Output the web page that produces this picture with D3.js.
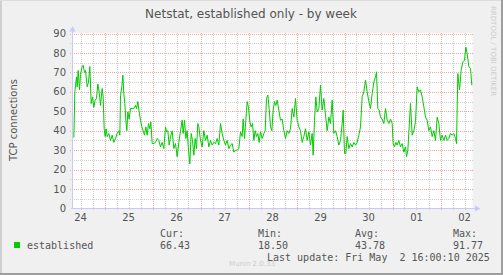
<!DOCTYPE html>
<html><head><meta charset="utf-8">
<script src="https://cdn.jsdelivr.net/npm/d3@7/dist/d3.min.js"></script>
<style>html,body{margin:0;padding:0;background:#f0f0f0;overflow:hidden}svg{display:block}</style>
</head><body><svg id="c" width="503" height="275"></svg>
<script>
// ---- data ----
const title = "Netstat, established only - by week";
const yLabel = "TCP connections";
const seriesName = "established";
const startTime = new Date(2025, 3, 24, 8, 0, 0);   // left edge of plot
const endTime = new Date(2025, 4, 2, 16, 0, 0);     // right edge of plot
const yTicks = [0, 10, 20, 30, 40, 50, 60, 70, 80, 90];
const yMinorTicks = [5, 15, 25, 35, 45, 55, 65, 75, 85];
// [hours since startTime, connections]
const established = [
 [0.67,36.5],[1.17,60],[2,67.7],[2.33,62.6],[2.83,71],[3.5,61],[4,69],[4.83,73],[5.33,73.7],[6,70],
 [6.5,71],[7.33,62.6],[8,65],[8.67,73],[9.33,54],[10,57.4],[10.67,52],[11.33,55.7],[12,56.6],[12.67,64],
 [13.33,60],[14,53],[14.83,61.7],[15.33,57.4],[15.83,41],[16.33,37],[16.83,41],[17.33,37],[18.17,38.6],[19,35],
 [19.83,37.7],[20.67,34],[21.5,36],[22.33,38.6],[23.17,40],[23.67,37.7],[24,58],[24.67,62.6],[25.17,68.6],[25.67,59],
 [26.17,54],[26.67,45.4],[27.17,40],[27.67,49.7],[28.33,46],[29,51.4],[29.83,51.4],[30.67,51.4],[31.5,53],[32,51.4],
 [32.67,55],[33.33,49.7],[34,45.4],[34.67,42],[35.33,40],[36,37.7],[36.67,42],[37.33,37.7],[38,43.7],[38.67,41],
 [39.17,44.6],[39.83,33.4],[40.67,33.4],[41.5,34],[42.33,36],[43.17,35],[44,31.7],[44.83,34],[45.67,30.8],[46.5,42],
 [47,39.4],[47.67,40],[48.33,32.6],[49,37],[49.83,40],[50.67,30.8],[51.5,33.4],[52.33,26.6],[53.17,34],[54,40],
 [54.83,45.4],[55.33,38.6],[56,45.4],[56.67,36],[57.33,40],[58,30],[58.67,23],[59.33,38.6],[60,35],[60.67,27.4],
 [61.33,36],[62,30.8],[62.67,43.7],[63.17,42],[64,35],[64.83,31.7],[65.67,40],[66.5,35],[67.33,37.7],[68.17,31.7],
 [69,35],[69.83,32.6],[70.67,34],[71.5,33.4],[72.33,36],[73.17,32.6],[74,43.7],[74.83,38.6],[75.67,35],[76.5,32.6],
 [77.33,35],[78.17,30.8],[79,32.6],[79.83,33.4],[80.67,29],[81.5,30],[82.33,30],[83.17,30.8],[84,39.4],[84.83,37],
 [85.33,46],[86,36],[86.67,45.4],[87.33,55],[88,52],[88.67,44.6],[89.33,42],[90,43.7],[90.67,35],[91.33,40],
 [92,37],[92.67,38.6],[93.33,34],[94,39.4],[94.83,36],[95.67,38.6],[96.33,40],[97,56.6],[97.67,58.3],[98.33,51.4],
 [99,42],[99.67,40],[100.33,50.6],[101,55],[101.67,53],[102.33,55.7],[103.17,50.6],[104,45.4],[104.83,46],[105.67,40],
 [106.5,36],[107.33,40],[108.17,38.6],[109,41],[109.83,51.4],[110.67,47],[111.5,56.6],[112.33,45.4],[113.17,42],[114,40],
 [114.83,34],[115.67,37],[116.5,41],[117.33,35],[118.17,39.4],[119,32.6],[119.83,38.6],[120.33,27.4],[121,45.4],[121.67,57.4],
 [122.33,49.7],[123.17,51.4],[124,63.4],[124.83,50.6],[125.67,56.6],[126.5,48],[127.33,40],[128.17,47],[129,43.7],[129.83,55.7],
 [130.67,38.6],[131.5,40],[132.33,37],[133.17,32.6],[134,35],[134.83,43.7],[135.33,50.6],[136,28.3],[136.67,28.3],[137.33,37],
 [138.17,30.8],[139,33.4],[139.83,31.7],[140.67,34],[141.5,32.6],[142.33,34],[143.17,37.7],[144,42],[144.83,57.4],[145.67,60],
 [146.5,66],[147.33,60],[148.17,55],[149,51.4],[149.83,59],[150.67,65],[151.5,67.7],[152,70.3],[152.67,51.4],[153.33,50.6],
 [154,47],[154.83,46],[155.67,43.7],[156.5,51.4],[157.33,45.4],[158.17,43.7],[159,46],[159.83,43.7],[160.33,33.4],[161,31.7],
 [161.67,34],[162.33,32.6],[163.17,35],[164,31.7],[164.83,33.4],[165.67,29],[166.5,31.7],[167,26.6],[167.67,30],[168.33,42],
 [169,54],[169.83,37.7],[170.67,40],[171.5,44.6],[172.33,62.6],[173.17,60],[174,61],[174.83,57.4],[175.67,52.3],[176.5,47],
 [177.33,45.4],[178.17,40],[179,42],[179.83,37],[180.67,40],[181.5,35],[182.33,47],[183.17,43.7],[184,35],[184.83,37.7],
 [185.67,35],[186.5,37.7],[187.33,35],[188.17,36],[189,38.6],[189.83,37.7],[190.67,38.6],[191.5,36],[192,33.4],[192.67,69.4],
 [193.5,61],[194.33,71],[195.17,75.4],[196,76.3],[196.67,83],[197.33,79.7],[198.17,73],[199,72],[199.67,63.4]
];
const legendHeaders = ["Cur:", "Min:", "Avg:", "Max:"];
const legendValues = ["66.43", "18.50", "43.78", "91.77"];
const lastUpdate = "Last update: Fri May  2 16:00:10 2025";
const footer = "Munin 2.0.33";
const watermark = "RRDTOOL / TOBI OETIKER";

// ---- drawing ----
const W = 503, H = 275;
const svg = d3.select("#c");
const sans = "'DejaVu Sans', sans-serif";
const mono = "'DejaVu Sans Mono', monospace";
const txt = "#555555";

svg.append("rect").attr("width", W).attr("height", H).attr("fill", "#f0f0f0");
// frame
svg.append("rect").attr("x", 0).attr("y", 0).attr("width", 2).attr("height", H).attr("fill", "#cfcfcf");
svg.append("rect").attr("x", 0).attr("y", 0).attr("width", W).attr("height", 1).attr("fill", "#dcdcdc");
svg.append("rect").attr("x", W - 2).attr("y", 0).attr("width", 2).attr("height", H).attr("fill", "#9e9e9e");
svg.append("rect").attr("x", 0).attr("y", H - 2).attr("width", W).attr("height", 2).attr("fill", "#9e9e9e");

const x = d3.scaleTime().domain([startTime, endTime]).range([72.5, 472.5]);
const y = d3.scaleLinear().domain([0, 90]).range([208.5, 33.5]);

svg.append("rect").attr("x", 72.5).attr("y", 33).attr("width", 400).attr("height", 175.5).attr("fill", "#ffffff");

const grid = svg.append("g").attr("shape-rendering", "crispEdges");
const minorC = "#cfcfcf", majorC = "#f2a3a3";
// minor horizontals
grid.selectAll(".hm").data(yMinorTicks).join("line")
  .attr("x1", 70).attr("x2", 473).attr("y1", d => Math.round(y(d)) + 0.5).attr("y2", d => Math.round(y(d)) + 0.5)
  .attr("stroke", minorC).attr("stroke-dasharray", "1,1");
// minor verticals every 6h
const sixH = d3.timeHour.every(6).range(startTime, endTime).filter(d => d.getHours() !== 0);
grid.selectAll(".vm").data(sixH).join("line")
  .attr("x1", d => Math.round(x(d)) + 0.5).attr("x2", d => Math.round(x(d)) + 0.5).attr("y1", 33).attr("y2", 210)
  .attr("stroke", minorC).attr("stroke-dasharray", "1,1");
// major horizontals
grid.selectAll(".hM").data(yTicks.filter(d => d > 0)).join("line")
  .attr("x1", 70).attr("x2", 473).attr("y1", d => Math.round(y(d)) + 0.5).attr("y2", d => Math.round(y(d)) + 0.5)
  .attr("stroke", majorC).attr("stroke-dasharray", "1,1");
// major verticals at midnight
const days = d3.timeDay.range(d3.timeDay.ceil(startTime), endTime);
grid.selectAll(".vM").data(days).join("line")
  .attr("x1", d => Math.round(x(d)) + 0.5).attr("x2", d => Math.round(x(d)) + 0.5).attr("y1", 33).attr("y2", 211)
  .attr("stroke", majorC).attr("stroke-dasharray", "1,1");

// series line
const line = d3.line()
  .x(d => x(new Date(+startTime + d[0] * 3600000)))
  .y(d => y(d[1]));
svg.append("path").datum(established).attr("d", line)
  .attr("fill", "none").attr("stroke", "#00cc00").attr("stroke-width", 1);

// axes
const axC = "#c8c8ff";
svg.append("line").attr("x1", 72.5).attr("x2", 72.5).attr("y1", 209).attr("y2", 30).attr("stroke", axC);
svg.append("path").attr("d", "M69.5,31.5 L75.5,31.5 L72.5,26 Z").attr("fill", axC);
svg.append("line").attr("x1", 71).attr("x2", 476).attr("y1", 208.5).attr("y2", 208.5).attr("stroke", axC);
svg.append("path").attr("d", "M475,205.5 L475,211.5 L480.5,208.5 Z").attr("fill", axC);

// y tick labels
svg.selectAll(".yl").data(yTicks).join("text")
  .attr("x", 66).attr("y", d => y(d)).attr("dy", "0.36em").attr("text-anchor", "end")
  .attr("font-family", sans).attr("font-size", 10).attr("fill", txt).text(d => d);
// x day labels at noon
const noons = d3.timeDay.range(d3.timeDay.floor(startTime), endTime).map(d => d3.timeHour.offset(d, 12))
  .filter(d => d >= startTime && d <= endTime);
svg.selectAll(".xl").data(noons).join("text")
  .attr("x", d => x(d)).attr("y", 221).attr("text-anchor", "middle")
  .attr("font-family", sans).attr("font-size", 10).attr("fill", txt).text(d3.timeFormat("%d"));

// title and y label
svg.append("text").attr("x", 251).attr("y", 18).attr("text-anchor", "middle")
  .attr("font-family", sans).attr("font-size", 12).attr("fill", txt).text(title);
svg.append("text").attr("transform", "translate(17,120) rotate(-90)").attr("text-anchor", "middle")
  .attr("font-family", sans).attr("font-size", 10).attr("fill", txt).text(yLabel);

// watermark
svg.append("text").attr("transform", "translate(491,6) rotate(90)")
  .attr("font-family", sans).attr("font-size", 7).attr("fill", "#cccccc").text(watermark);

// legend
svg.append("rect").attr("x", 14).attr("y", 242).attr("width", 6).attr("height", 6).attr("fill", "#00cc00");
svg.append("text").attr("x", 27).attr("y", 249).attr("font-family", mono).attr("font-size", 10).attr("fill", txt).text(seriesName);
const legX = [160, 258, 355, 453];
svg.selectAll(".lh").data(legendHeaders).join("text")
  .attr("x", (d, i) => legX[i]).attr("y", 237).attr("font-family", mono).attr("font-size", 10).attr("fill", txt).text(d => d);
svg.selectAll(".lv").data(legendValues).join("text")
  .attr("x", (d, i) => legX[i]).attr("y", 249).attr("font-family", mono).attr("font-size", 10).attr("fill", txt).text(d => d);
svg.append("text").attr("x", 267).attr("y", 261).attr("font-family", mono).attr("font-size", 10)
  .attr("fill", txt).style("white-space", "pre").attr("xml:space", "preserve").text(lastUpdate);
svg.append("text").attr("x", 252).attr("y", 266).attr("text-anchor", "middle").attr("font-family", sans)
  .attr("font-size", 7).attr("fill", "#cccccc").text(footer);
</script></body></html>
